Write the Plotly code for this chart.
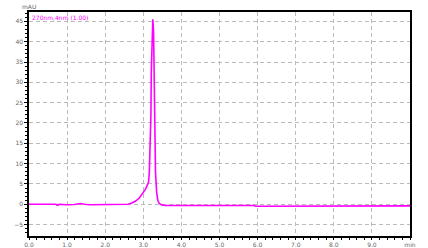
import plotly.graph_objects as go

time_min = [0.0, 0.4, 0.5, 0.6, 0.7, 0.75, 0.8, 1.0, 1.2, 1.35, 1.45, 1.6, 2.0, 2.5, 2.6, 2.7, 2.8, 2.9,
            3.0, 3.05, 3.1, 3.14, 3.16, 3.19, 3.2, 3.21, 3.23, 3.25, 3.27, 3.29, 3.31, 3.32, 3.35, 3.38,
            3.42, 3.5, 3.6, 5.0, 5.9, 5.95, 6.05, 6.1, 10.0]
signal_mau = [0.0, 0.05, -0.1, 0.05, 0.0, -0.25, 0.0, -0.1, -0.05, 0.2, 0.0, -0.1, -0.1, -0.1, 0.0, 0.3, 0.8, 1.6,
              2.8, 3.6, 4.6, 5.5, 8.4, 16, 22, 32.7, 43.5, 45.5, 42.3, 31, 18, 8, 3, 1,
              0.2, -0.2, -0.3, -0.3, -0.3, -0.5, -0.5, -0.35, -0.4]

x_tickvals = [0, 1, 2, 3, 4, 5, 6, 7, 8, 9, 10]
x_ticktext = ["0.0", "1.0", "2.0", "3.0", "4.0", "5.0", "6.0", "7.0", "8.0", "9.0", "min"]
y_tickvals = [-5, 0, 5, 10, 15, 20, 25, 30, 35, 40, 45]

fig = go.Figure()
fig.add_trace(go.Scatter(x=time_min, y=signal_mau, mode="lines",
                         line=dict(color="#ff00ff", width=1.6), showlegend=False))

tickfont = dict(family="DejaVu Sans", size=6, color="#666666")
fig.update_layout(
    width=428, height=248,
    margin=dict(l=29, r=18, t=12, b=12),
    paper_bgcolor="white", plot_bgcolor="white",
    xaxis=dict(range=[0, 10], tickvals=x_tickvals, ticktext=x_ticktext,
               showline=True, linecolor="black", linewidth=1.5, mirror=True,
               ticks="outside", ticklen=2, tickcolor="black", tickfont=tickfont,
               showgrid=True, gridcolor="#bbbbbb", griddash="4px,3px", gridwidth=1,
               zeroline=False, automargin=False,
               minor=dict(ticks="outside", ticklen=2, dtick=0.2, tickcolor="black", showgrid=False)),
    yaxis=dict(range=[-7.8, 47.3], tickvals=y_tickvals,
               showline=True, linecolor="black", linewidth=1.5, mirror=True,
               ticks="outside", ticklen=3, tickcolor="black", tickfont=tickfont,
               showgrid=True, gridcolor="#bbbbbb", griddash="4px,3px", gridwidth=1,
               zeroline=False, automargin=False,
               minor=dict(ticks="outside", ticklen=2, dtick=1, tickcolor="black", showgrid=False)),
    annotations=[
        dict(text="mAU", xref="paper", yref="paper", x=0, y=1, xanchor="center", yanchor="bottom",
             yshift=0, showarrow=False, font=dict(family="DejaVu Sans", size=6, color="#666666")),
        dict(text="270nm,4nm (1.00)", xref="paper", yref="paper", x=0, y=1, xanchor="left", yanchor="top",
             xshift=1, showarrow=False, font=dict(family="DejaVu Sans", size=6, color="#ff00ff")),
    ],
)
fig.write_html("out.html")
